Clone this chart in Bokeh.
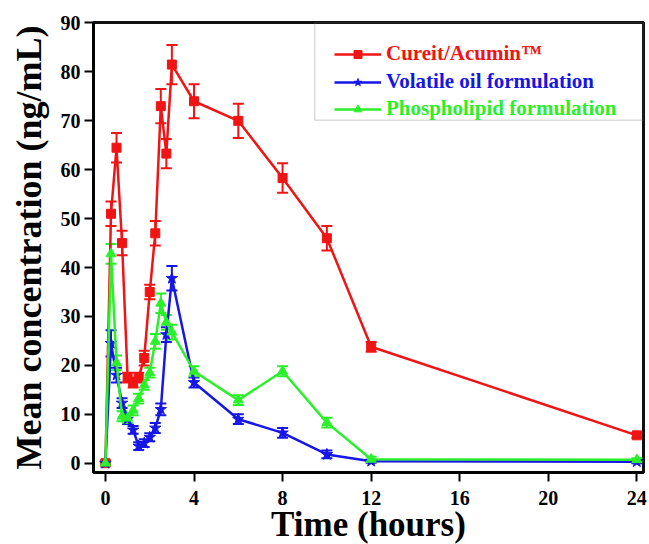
from bokeh.plotting import figure
from bokeh.models import (ColumnDataSource, Whisker, TeeHead, Legend, LegendItem,
                          BoxAnnotation, Range1d, FixedTicker, Title)
from bokeh.embed import file_html
from bokeh.resources import INLINE

# ---- data ----
time = [0, 0.25, 0.5, 0.75, 1, 1.25, 1.5, 1.75, 2, 2.25, 2.5, 2.75, 3, 4, 6, 8, 10, 12, 24]
cureit = [0, 51, 64.5, 45, 17.5, 16.5, 17.5, 21.5, 35, 47, 73, 63.3, 81.5, 74, 70, 58.3, 46, 23.8, 5.7]
cureit_err = [0.5, 2.5, 3, 2.5, 1, 1, 1, 1.5, 1.5, 2.5, 3.5, 3, 4, 3.5, 3.5, 3, 2.5, 1, 0.5]
volatile = [0, 24.5, 18, 12.3, 9, 6.8, 3.5, 4.1, 5.3, 7.2, 11, 26.3, 37.8, 16.5, 9, 6.2, 1.8, 0.4, 0.3]
volatile_err = [0.3, 2.7, 1.5, 1, 1, 0.8, 0.8, 0.8, 0.8, 1, 1.2, 1.5, 2.5, 1, 1, 1, 0.8, 0.3, 0.3]
phospho = [0, 42.8, 20.5, 9.6, 9.2, 10.8, 13.2, 16, 18.5, 24.9, 32.7, 28.8, 26.8, 18.8, 12.9, 18.8, 8.3, 0.8, 0.7]
phospho_err = [0.3, 2, 1.5, 1, 1, 1, 1, 1, 1, 1.5, 2, 1.5, 1.5, 1, 1, 1, 1, 0.5, 0.3]

labels = ["Cureit/Acumin\u2122", "Volatile oil formulation", "Phospholipid formulation"]
x_ticks = [0, 4, 8, 12, 16, 20, 24]
y_ticks = [0, 10, 20, 30, 40, 50, 60, 70, 80, 90]
x_title = "Time (hours)"
y_title = "Mean concentration (ng/mL)"

FONT = "Liberation Serif"

p = figure(width=649, height=544, output_backend="svg", toolbar_location=None,
           x_range=Range1d(-0.54, 24.3), y_range=Range1d(-1.9, 90.1),
           min_border_left=93, min_border_right=6, min_border_top=22, min_border_bottom=72)
p.grid.visible = False
p.outline_line_color = "#111111"
p.outline_line_width = 3
p.background_fill_color = "white"
p.border_fill_color = "white"

for ax in (p.xaxis[0], p.yaxis[0]):
    ax.axis_line_width = 2.5
    ax.axis_line_color = "black"
    ax.major_tick_line_width = 2
    ax.major_tick_out = 9
    ax.major_tick_in = 0
    ax.minor_tick_line_color = None
    ax.major_label_text_font = FONT
    ax.major_label_text_font_style = "bold"
    ax.major_label_text_font_size = "20px"
    ax.major_label_text_color = "black"
    ax.axis_label_text_font = FONT
    ax.axis_label_text_font_style = "bold"
    ax.axis_label_text_color = "black"

p.yaxis.axis_label_text_font_size = "36px"
p.xaxis.ticker = FixedTicker(ticks=x_ticks)
p.yaxis.ticker = FixedTicker(ticks=y_ticks)
p.yaxis.axis_label = y_title
p.xaxis.major_label_standoff = 9
p.yaxis.major_label_standoff = 4
p.yaxis.axis_label_standoff = 9

# x-axis title as a below-panel title, pulled up close to the tick labels
p.add_layout(Title(text=x_title, align="center", offset=-10, standoff=-10,
                   text_font=FONT, text_font_style="bold",
                   text_font_size="35px", text_color="black"), "below")

series = [
    (cureit, cureit_err, "#f01414", "square", 9),
    (volatile, volatile_err, "#1616e6", "star", 12),
    (phospho, phospho_err, "#2af02a", "triangle", 10),
]

items = []
for (vals, err, color, marker, size), label in zip(series, labels):
    src = ColumnDataSource(dict(x=time, y=vals,
                                lo=[v - e for v, e in zip(vals, err)],
                                hi=[v + e for v, e in zip(vals, err)]))
    w = Whisker(source=src, base="x", upper="hi", lower="lo",
                line_color=color, line_width=2,
                upper_head=TeeHead(size=11, line_color=color, line_width=2),
                lower_head=TeeHead(size=11, line_color=color, line_width=2))
    p.add_layout(w)
    lr = p.line("x", "y", source=src, line_color=color, line_width=2.5)
    sr = p.scatter("x", "y", source=src, marker=marker, size=size,
                   fill_color=color, line_color=color)
    items.append((label, color, [lr, sr]))

# legend frame
box = BoxAnnotation(left=9.45, right=24.3, top=90.1, bottom=70.1,
                    fill_alpha=0, line_color="#888888", line_width=1.5)
p.add_layout(box)

# one legend per entry so the label takes the series colour
frame_y = [406, 378, 351]
for (label, color, rends), ly in zip(items, frame_y):
    lg = Legend(items=[LegendItem(label=label, renderers=rends)],
                location=(241, ly), orientation="vertical",
                border_line_alpha=0, background_fill_alpha=0,
                padding=0, margin=0, spacing=0,
                glyph_width=47, glyph_height=20, label_height=20,
                label_standoff=5,
                label_text_font=FONT, label_text_font_style="bold",
                label_text_font_size="21px", label_text_color=color)
    p.add_layout(lg)

open("out.html", "w").write(file_html(p, INLINE))
